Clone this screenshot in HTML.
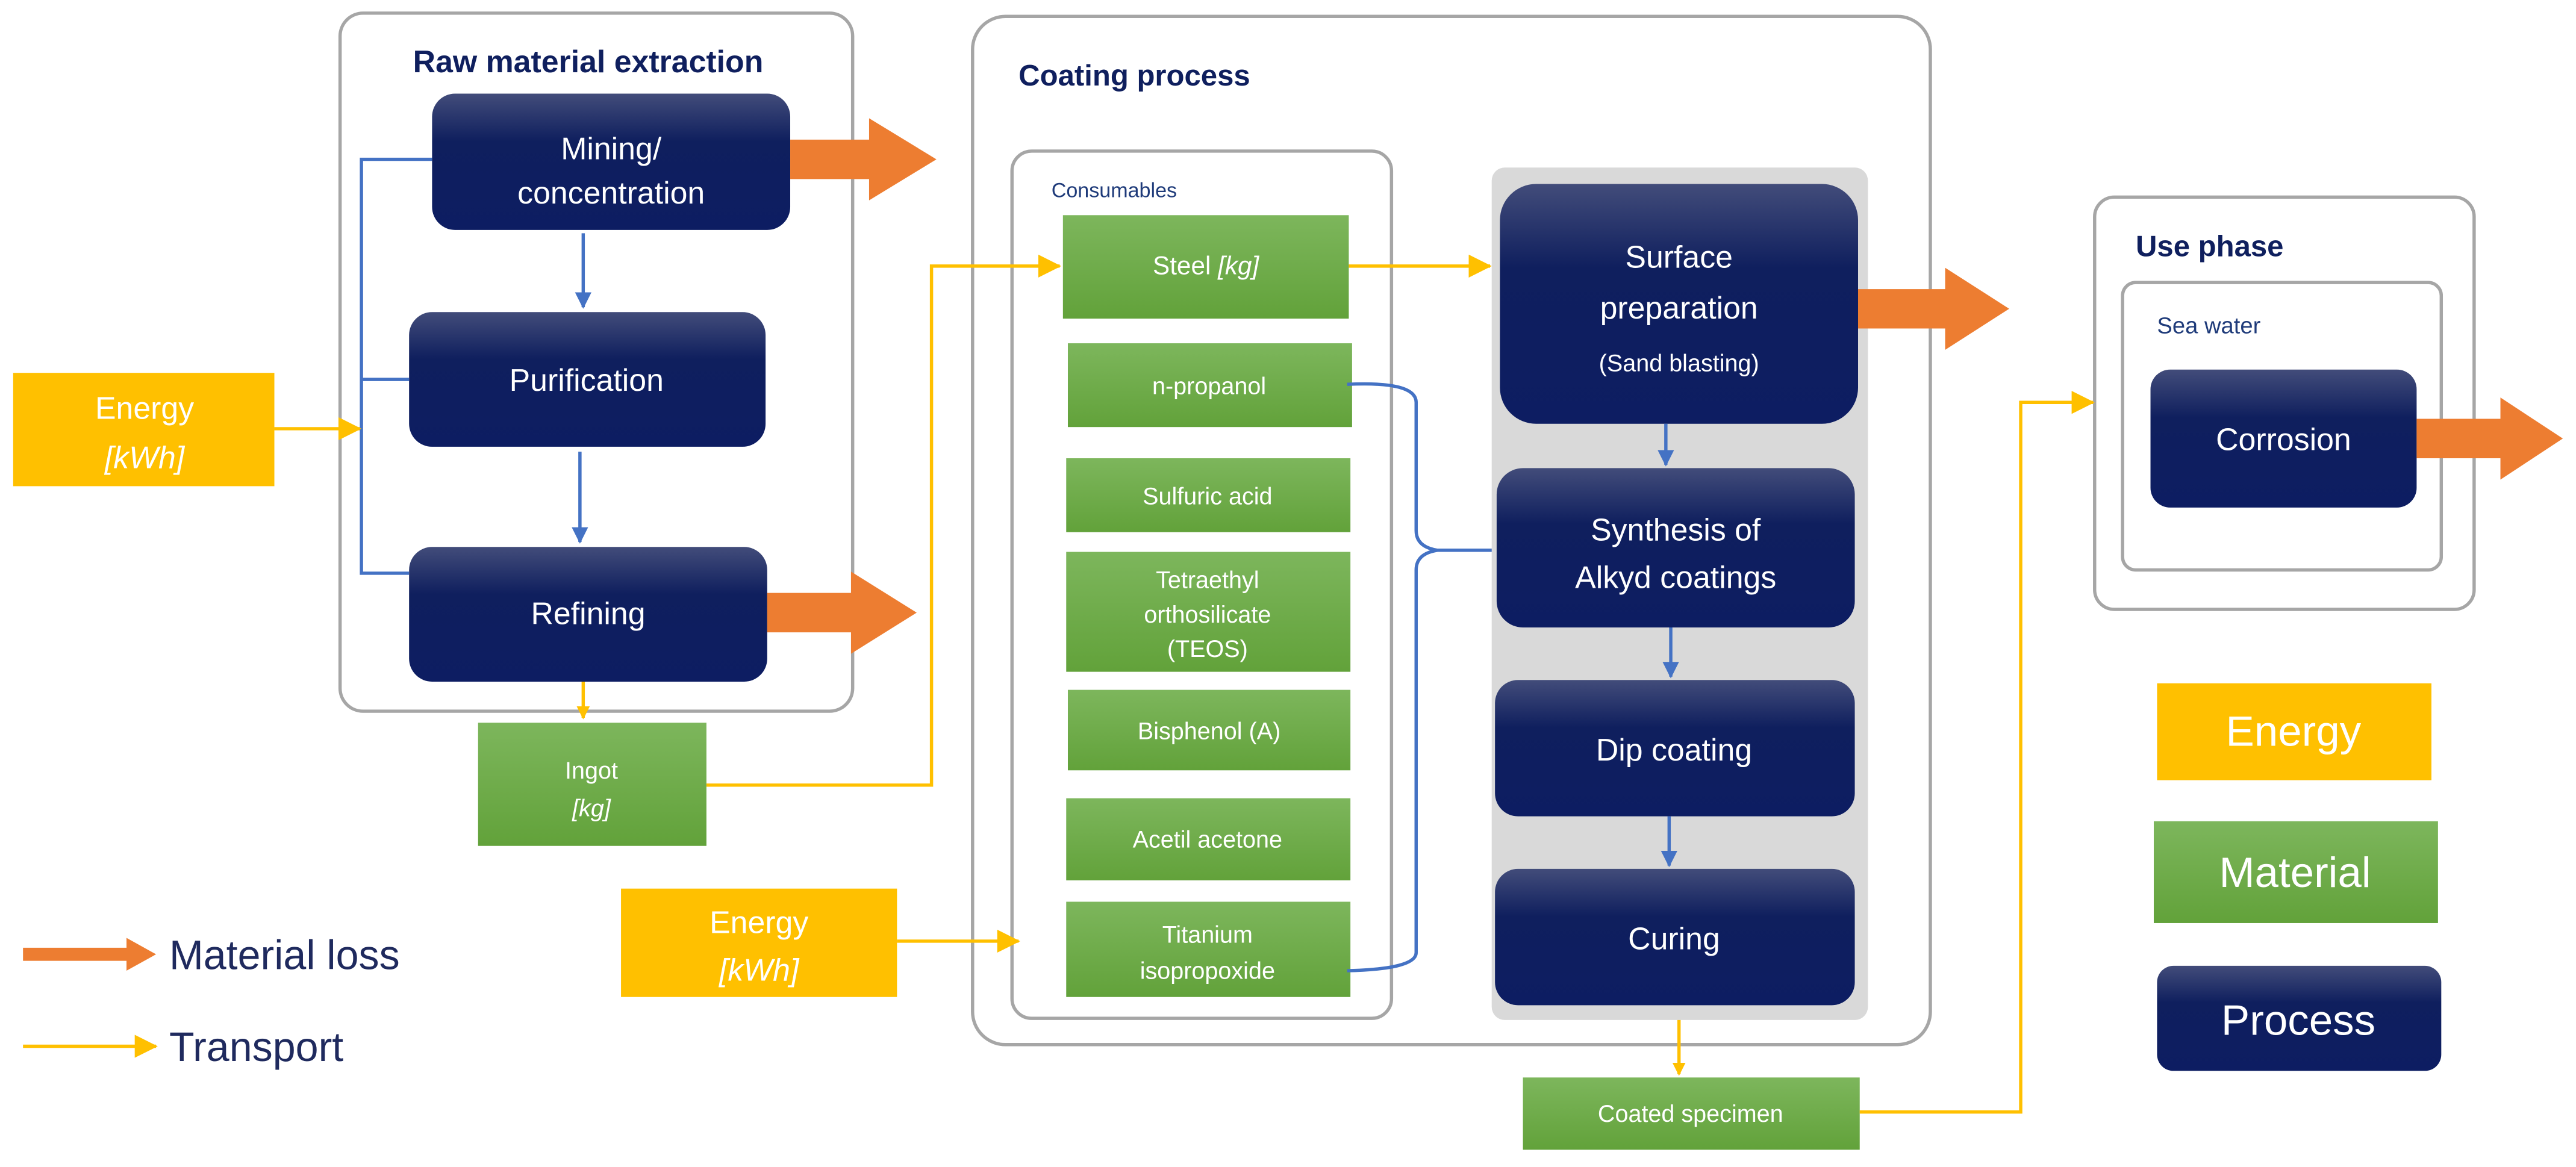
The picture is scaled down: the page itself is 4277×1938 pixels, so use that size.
<!DOCTYPE html>
<html><head><meta charset="utf-8"><style>html,body{margin:0;padding:0;background:#fff}svg{display:block}text{font-family:"Liberation Sans",sans-serif}</style></head>
<body>
<svg width="4277" height="1938" viewBox="0 0 1568 710.5" xmlns="http://www.w3.org/2000/svg">
<defs>
<linearGradient id="nv" x1="0" y1="0" x2="0" y2="1"><stop offset="0" stop-color="#424c7a"/><stop offset="0.35" stop-color="#0f1f5e"/><stop offset="1" stop-color="#0d1d62"/></linearGradient>
<linearGradient id="gr" x1="0" y1="0" x2="0" y2="1"><stop offset="0" stop-color="#7db65c"/><stop offset="1" stop-color="#62a23a"/></linearGradient>
<marker id="ay" markerWidth="8" markerHeight="8" refX="7" refY="4" orient="auto" markerUnits="userSpaceOnUse"><path d="M0,0 L8,4 L0,8z" fill="#ffc000"/></marker>
<marker id="ab" markerWidth="10" markerHeight="10" refX="9" refY="5" orient="auto" markerUnits="userSpaceOnUse"><path d="M0,0 L10,5 L0,10z" fill="#4472c4"/></marker>
<marker id="ay2" markerWidth="14" markerHeight="14" refX="13" refY="7" orient="auto" markerUnits="userSpaceOnUse"><path d="M0,0 L14,7 L0,14z" fill="#ffc000"/></marker>
</defs>
<g fill="none" stroke="#a6a6a6" stroke-width="2">
<rect x="207" y="8" width="312" height="425" rx="14"/>
<rect x="592" y="10" width="583" height="626" rx="20"/>
<rect x="616" y="92" width="231" height="528" rx="12"/>
<rect x="1275" y="120" width="231" height="251" rx="12"/>
<rect x="1292" y="172" width="194" height="175" rx="8"/>
</g>
<rect x="908" y="102" width="229" height="519" rx="8" fill="#d9d9d9"/>
<g fill="#0f1f5e" font-weight="bold">
<text x="358" y="44" font-size="19" text-anchor="middle">Raw material extraction</text>
<text x="620" y="52" font-size="18">Coating process</text>
<text x="1300" y="156" font-size="18">Use phase</text>
</g>
<text x="640" y="120" font-size="12.5" fill="#1f3b7a">Consumables</text>
<text x="1313" y="203" font-size="14" fill="#1f3b7a">Sea water</text>
<!-- process boxes -->
<g fill="url(#nv)">
<rect x="263" y="57" width="218" height="83" rx="14"/>
<rect x="249" y="190" width="217" height="82" rx="14"/>
<rect x="249" y="333" width="218" height="82" rx="14"/>
<rect x="913" y="112" width="218" height="146" rx="22"/>
<rect x="911" y="285" width="218" height="97" rx="16"/>
<rect x="910" y="414" width="219" height="83" rx="14"/>
<rect x="910" y="529" width="219" height="83" rx="14"/>
<rect x="1309" y="225" width="162" height="84" rx="12"/>
<rect x="1313" y="588" width="173" height="64" rx="10"/>
</g>
<g fill="#fff" text-anchor="middle" font-size="19">
<text x="372" y="97">Mining/</text><text x="372" y="124">concentration</text>
<text x="357" y="238">Purification</text>
<text x="358" y="380">Refining</text>
<text x="1022" y="163">Surface</text><text x="1022" y="194">preparation</text>
<text x="1022" y="226" font-size="14.5">(Sand blasting)</text>
<text x="1020" y="329">Synthesis of</text><text x="1020" y="358">Alkyd coatings</text>
<text x="1019" y="463">Dip coating</text>
<text x="1019" y="578">Curing</text>
<text x="1390" y="274">Corrosion</text>
<text x="1399" y="630" font-size="26">Process</text>
</g>
<!-- green -->
<g fill="url(#gr)">
<rect x="291" y="440" width="139" height="75"/>
<rect x="647" y="131" width="174" height="63"/>
<rect x="650" y="209" width="173" height="51"/>
<rect x="649" y="279" width="173" height="45"/>
<rect x="649" y="336" width="173" height="73"/>
<rect x="650" y="420" width="172" height="49"/>
<rect x="649" y="486" width="173" height="50"/>
<rect x="649" y="549" width="173" height="58"/>
<rect x="927" y="656" width="205" height="44"/>
<rect x="1311" y="500" width="173" height="62"/>
</g>
<g fill="#fff" text-anchor="middle" font-size="14.5">
<text x="360" y="474">Ingot</text><text x="360" y="497" font-style="italic">[kg]</text>
<text x="734" y="167" font-size="15.5">Steel <tspan font-style="italic">[kg]</tspan></text>
<text x="736" y="240">n-propanol</text>
<text x="735" y="307">Sulfuric acid</text>
<text x="735" y="358">Tetraethyl</text><text x="735" y="379">orthosilicate</text><text x="735" y="400">(TEOS)</text>
<text x="736" y="450">Bisphenol (A)</text>
<text x="735" y="516">Acetil acetone</text>
<text x="735" y="574">Titanium</text><text x="735" y="596">isopropoxide</text>
<text x="1029" y="683">Coated specimen</text>
<text x="1397" y="540" font-size="26">Material</text>
</g>
<!-- yellow -->
<g fill="#ffc000">
<rect x="8" y="227" width="159" height="69"/>
<rect x="378" y="541" width="168" height="66"/>
<rect x="1313" y="416" width="167" height="59"/>
</g>
<g fill="#fff" text-anchor="middle" font-size="19">
<text x="88" y="255">Energy</text><text x="88" y="285" font-style="italic">[kWh]</text>
<text x="462" y="568">Energy</text><text x="462" y="597" font-style="italic">[kWh]</text>
<text x="1396" y="454" font-size="26">Energy</text>
</g>
<!-- blue connectors -->
<g stroke="#4472c4" stroke-width="2" fill="none">
<path d="M263,97 H220 V349 H249 M220,231 H249"/>
<path d="M355,142 V187" marker-end="url(#ab)"/>
<path d="M353,275 V330" marker-end="url(#ab)"/>
<path d="M1014,258 V283" marker-end="url(#ab)"/>
<path d="M1017,382 V412" marker-end="url(#ab)"/>
<path d="M1016,497 V527" marker-end="url(#ab)"/>
<path d="M820,234 Q862,232 862,245 V323 Q862,333 875,335 H908 M875,335 Q862,337 862,347 V580 Q862,590 820,591"/>
</g>
<!-- yellow connectors -->
<g stroke="#ffc000" stroke-width="2" fill="none">
<path d="M167,261 H219" marker-end="url(#ay2)"/>
<path d="M355,415 V437" marker-end="url(#ay)"/>
<path d="M430,478 H567 V162 H645" marker-end="url(#ay2)"/>
<path d="M821,162 H907" marker-end="url(#ay2)"/>
<path d="M546,573 H620" marker-end="url(#ay2)"/>
<path d="M1022,621 V654" marker-end="url(#ay)"/>
<path d="M1132,677 H1230 V245 H1274" marker-end="url(#ay2)"/>
<path d="M14,637 H95" marker-end="url(#ay2)"/>
</g>
<!-- orange arrows -->
<g fill="#ed7d31">
<path d="M481,85 H529 V72 L570,97 L529,122 V109 H481z"/>
<path d="M467,361 H518 V348 L558,373 L518,398 V385 H467z"/>
<path d="M1131,176 H1184 V163 L1223,188 L1184,213 V200 H1131z"/>
<path d="M1471,255 H1522 V242 L1560,267 L1522,292 V279 H1471z"/>
<path d="M14,577 H77 V571 L95,581 L77,591 V585 H14z"/>
</g>
<g fill="#1f2a5e" font-size="25">
<text x="103" y="590">Material loss</text>
<text x="103" y="646">Transport</text>
</g>
</svg>
</body></html>
